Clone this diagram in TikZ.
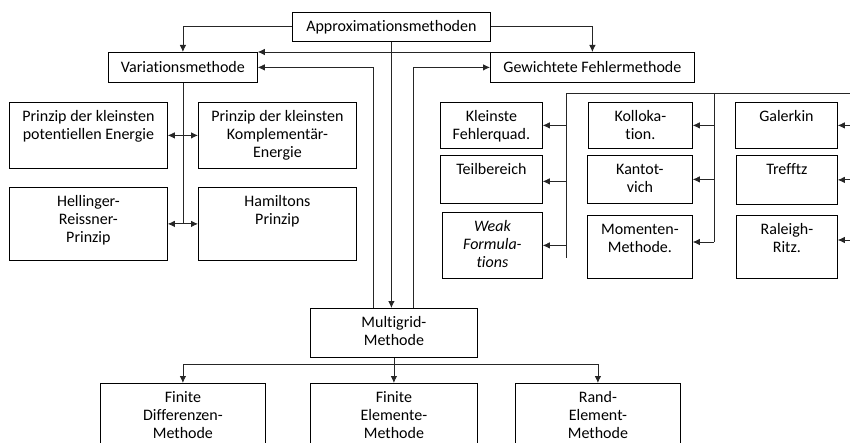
\documentclass[tikz,border=0pt]{standalone}
\usepackage{fontspec}
\setmainfont{Carlito}[Ligatures=NoCommon]
\usetikzlibrary{arrows.meta}
% box contents: text hung from the top, or centred
\newcommand\topbox[3]{\parbox[c][#2][t]{#1}{\centering\vspace*{6pt}\strut#3}}
\newcommand\midbox[3]{\parbox[c][#2][c]{#1}{\centering #3}}

\begin{document}
\begin{tikzpicture}[x=1pt,y=-1pt,
  box/.style={draw=black, line width=0.8pt, inner sep=0pt, anchor=north west,
              font=\fontsize{16}{18.3}\selectfont},
  conn/.style={line width=0.8pt, draw=black!85},
  arr/.style={conn, -{Latex[length=7pt,width=6.5pt]}},
  darr/.style={conn, {Latex[length=7pt,width=6.5pt]}-{Latex[length=7pt,width=6.5pt]}},
]
\useasboundingbox (0,0) rectangle (850,443);

% top level
\node[box] (approx) at (292,12) {\midbox{198pt}{29pt}{Approximationsmethoden}};
\node[box] (var) at (108,52) {\midbox{149pt}{30pt}{Variationsmethode}};
\node[box] (gew) at (490,52) {\midbox{204pt}{30pt}{Gewichtete Fehlermethode}};

% variational principles
\node[box] (p1) at (9,102) {\topbox{158pt}{66pt}{Prinzip der kleinsten\\potentiellen Energie}};
\node[box] (p2) at (198,102) {\topbox{158pt}{66pt}{Prinzip der kleinsten\\Komplementär-\\Energie}};
\node[box] (hr) at (9,187) {\topbox{158pt}{73pt}{Hellinger-\\Reissner-\\Prinzip}};
\node[box] (ham) at (198,187) {\topbox{158pt}{73pt}{Hamiltons\\Prinzip}};

% weighted residual methods
\node[box] (kfq) at (440,102) {\topbox{102pt}{46pt}{Kleinste\\Fehlerquad.}};
\node[box] (teil) at (440,155) {\topbox{102pt}{48pt}{Teilbereich}};
\node[box] (weak) at (442,212) {\topbox{100pt}{66pt}{\itshape Weak\\Formula-\\tions}};
\node[box] (kol) at (588,102) {\topbox{104pt}{46pt}{Kolloka-\\tion.}};
\node[box] (kan) at (587,155) {\topbox{105pt}{48pt}{Kantot-\\vich}};
\node[box] (mom) at (587,215) {\topbox{105pt}{63pt}{Momenten-\\Methode.}};
\node[box] (gal) at (735,102) {\topbox{102pt}{46pt}{Galerkin}};
\node[box] (tre) at (736,155) {\topbox{101pt}{49pt}{Trefftz}};
\node[box] (ral) at (736,215) {\topbox{101pt}{63pt}{Raleigh-\\Ritz.}};

% discretisation
\node[box] (mg) at (310,308) {\topbox{167pt}{49pt}{Multigrid-\\Methode}};
\node[box] (fd) at (100,383) {\topbox{165pt}{80pt}{Finite\\Differenzen-\\Methode}};
\node[box] (fe) at (310,383) {\topbox{167pt}{80pt}{Finite\\Elemente-\\Methode}};
\node[box] (rem) at (515,383) {\topbox{165pt}{80pt}{Rand-\\Element-\\Methode}};

% bus lines
\coordinate (vend) at (var.south |- hr.west);
\coordinate (b1t) at (566,93);
\coordinate (b1b) at (566,258);
\coordinate (b2t) at (714,93);
\coordinate (b2b) at (714,242);
\coordinate (b3t) at (852,93);
\coordinate (b3b) at (852,240);
\coordinate (split) at (mg.south |- 0,364);

% connectors from the top
\draw[arr] (approx.west) -| (var.north);
\draw[arr] (approx.east) -| (gew.north);
\draw[arr] (approx.south) -- (approx.south |- mg.north);
\draw[arr] (gew.north west) -- (var.north east);
\draw[arr] ([xshift=-21pt]mg.north) |- (var.east);
\draw[arr] ([xshift=19pt]mg.north) |- (gew.west);

% left branch
\draw[conn] (var.south) -- (vend);
\draw[darr] (p1.east) -- (p2.west);
\draw[darr] (hr.east) -- (ham.west);

% right branch
\draw[conn] (b1b) -- (b1t) -- (b3t) -- (b3b);
\draw[conn] (b2t) -- (b2b);
\draw[arr] (b1t |- kfq.east) -- (kfq.east);
\draw[arr] ([yshift=-2pt]b1t |- teil.east) -- ([yshift=-2pt]teil.east);
\draw[arr] (b1t |- weak.east) -- (weak.east);
\draw[arr] (b2t |- kol.east) -- (kol.east);
\draw[arr] (b2t |- kan.east) -- (kan.east);
\draw[arr] (b2b) -- (b2b -| mom.east);
\draw[arr] (b3t |- gal.east) -- (gal.east);
\draw[arr] (b3t |- tre.east) -- (tre.east);
\draw[arr] (b3b) -- (b3b -| ral.east);

% bottom branch
\draw[arr] (mg.south) -- (fe.north);
\draw[arr] (split) -| (fd.north);
\draw[arr] (split) -| (rem.north);
\end{tikzpicture}
\end{document}
